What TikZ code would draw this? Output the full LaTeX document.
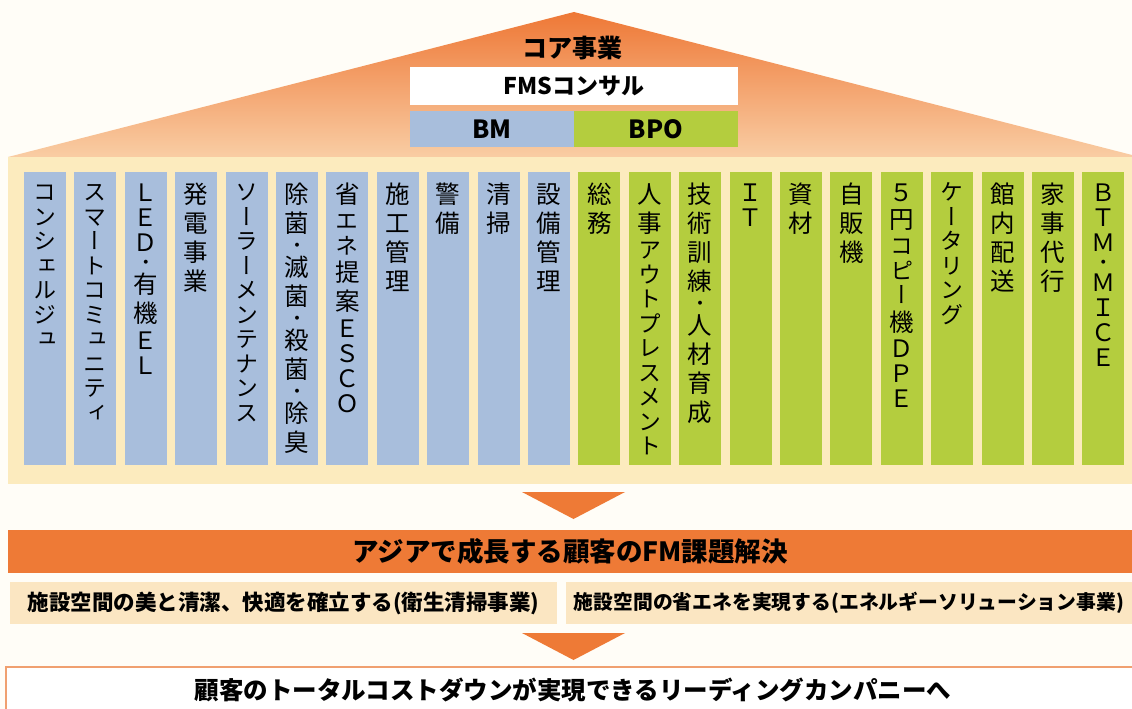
\documentclass[tikz,border=0pt]{standalone}
\usepackage{fontspec}
\setmainfont{Noto Sans CJK JP}
\newfontfamily\vfont[RawFeature=+vert]{Noto Sans CJK JP}
\definecolor{bgc}{HTML}{FFFDF7}
\definecolor{roofTop}{HTML}{EE7836}
\definecolor{roofBot}{HTML}{F9CDA4}
\definecolor{bodyY}{HTML}{FCEBBE}
\definecolor{colB}{HTML}{A8BEDC}
\definecolor{colG}{HTML}{B4CD3E}
\definecolor{barO}{HTML}{EE7A36}
\definecolor{boxY}{HTML}{FBE6C2}
\definecolor{lineO}{HTML}{F0A070}
% one character of a vertical column: slot height, font size, character
\newcommand\vslot[3]{\vbox to #1pt{\vss\hbox to 0pt{\hss\fontsize{#2}{#2}\selectfont\smash{#3}\hss}\kern\dimexpr #1pt/2 - #2pt*38/100\relax}}
\newcommand\vK[1]{\vslot{28}{24.5}{#1}}
\newcommand\vA[1]{\vslot{23.5}{23}{#1}}
\newcommand\vL[1]{\vslot{24}{24}{#1}}
\newcommand\vD{\vslot{14}{14}{\bfseries ・}}
\begin{document}
\begin{tikzpicture}[x=1pt,y=-1pt,
  colbox/.style={rectangle,anchor=north west,minimum width=42pt,minimum height=293pt,inner sep=0pt,outer sep=0pt},
  coltext/.style={anchor=north,inner sep=0pt,font=\vfont},
  hbox/.style={rectangle,inner sep=0pt,outer sep=0pt,font=\bfseries\fontsize{25}{25}\selectfont},
  tri/.style={fill=barO}
]
\useasboundingbox (0,0) rectangle (1132,709);
\fill[bgc] (0,0) rectangle (1132,709);
% roof
\shade[top color=roofTop,bottom color=roofBot] (8,157) -- (574,12) -- (1132,155) -- (1132,157) -- cycle;
\fill[bodyY] (8,157) rectangle (1132,484);
% header
\node[font=\bfseries\fontsize{25}{25}\selectfont,inner sep=0pt] (core) at (572,48) {コア事業};
\node[hbox,fill=white,minimum width=328pt,minimum height=38pt,font=\bfseries\fontsize{23}{23}\selectfont] (fms) at (574,86) {FMSコンサル};
\node[hbox,fill=colB,minimum width=164pt,minimum height=36pt] (bm) at (492,129) {BM};
\node[hbox,fill=colG,minimum width=164pt,minimum height=36pt] (bpo) at (656,129) {BPO};
% columns
\newcommand\vcol[3]{%
  \node[colbox,fill=#2] (c#1) at ({24+50.4*#1},172) {};
  \node[coltext] (t#1) at ({45+50.4*#1},180) {\vbox{#3}};
}
\vcol{0}{colB}{\vA{コ}\vA{ン}\vA{シ}\vA{ェ}\vA{ル}\vA{ジ}\vA{ュ}}
\vcol{1}{colB}{\vA{ス}\vA{マ}\vA{ー}\vA{ト}\vA{コ}\vA{ミ}\vA{ュ}\vA{ニ}\vA{テ}\vA{ィ}}
\vcol{2}{colB}{\vL{Ｌ}\vL{Ｅ}\vL{Ｄ}\vD\vK{有}\vK{機}\vL{Ｅ}\vL{Ｌ}}
\vcol{3}{colB}{\vK{発}\vK{電}\vK{事}\vK{業}}
\vcol{4}{colB}{\vA{ソ}\vA{ー}\vA{ラ}\vA{ー}\vA{メ}\vA{ン}\vA{テ}\vA{ナ}\vA{ン}\vA{ス}}
\vcol{5}{colB}{\vK{除}\vK{菌}\vD\vK{滅}\vK{菌}\vD\vK{殺}\vK{菌}\vD\vK{除}\vK{臭}}
\vcol{6}{colB}{\vK{省}\vA{エ}\vA{ネ}\vK{提}\vK{案}\vL{Ｅ}\vL{Ｓ}\vL{Ｃ}\vL{Ｏ}}
\vcol{7}{colB}{\vK{施}\vK{工}\vK{管}\vK{理}}
\vcol{8}{colB}{\vK{警}\vK{備}}
\vcol{9}{colB}{\vK{清}\vK{掃}}
\vcol{10}{colB}{\vK{設}\vK{備}\vK{管}\vK{理}}
\vcol{11}{colG}{\vK{総}\vK{務}}
\vcol{12}{colG}{\vK{人}\vK{事}\vA{ア}\vA{ウ}\vA{ト}\vA{プ}\vA{レ}\vA{ス}\vA{メ}\vA{ン}\vA{ト}}
\vcol{13}{colG}{\vK{技}\vK{術}\vK{訓}\vK{練}\vD\vK{人}\vK{材}\vK{育}\vK{成}}
\vcol{14}{colG}{\vL{Ｉ}\vL{Ｔ}}
\vcol{15}{colG}{\vK{資}\vK{材}}
\vcol{16}{colG}{\vK{自}\vK{販}\vK{機}}
\vcol{17}{colG}{\vL{５}\vK{円}\vA{コ}\vA{ピ}\vA{ー}\vK{機}\vL{Ｄ}\vL{Ｐ}\vL{Ｅ}}
\vcol{18}{colG}{\vA{ケ}\vA{ー}\vA{タ}\vA{リ}\vA{ン}\vA{グ}}
\vcol{19}{colG}{\vK{館}\vK{内}\vK{配}\vK{送}}
\vcol{20}{colG}{\vK{家}\vK{事}\vK{代}\vK{行}}
\vcol{21}{colG}{\vL{Ｂ}\vL{Ｔ}\vL{Ｍ}\vD\vL{Ｍ}\vL{Ｉ}\vL{Ｃ}\vL{Ｅ}}
% lower part
\node[rectangle,fill=barO,minimum width=1124pt,minimum height=43pt,inner sep=0pt,font=\bfseries\fontsize{26.5}{26.5}\selectfont] (sol) at (570,551.5) {アジアで成長する顧客のFM課題解決};
\node[rectangle,fill=boxY,minimum width=547pt,minimum height=42pt,inner sep=0pt,font=\bfseries\fontsize{21.5}{21.5}\selectfont] (hyg) at (283.5,603) {施設空間の美と清潔、快適を確立する(衛生清掃事業)};
\node[rectangle,fill=boxY,minimum width=566pt,minimum height=42pt,inner sep=0pt,font=\bfseries\fontsize{19.8}{19.8}\selectfont] (ene) at (849,603) {施設空間の省エネを実現する(エネルギーソリューション事業)};
\fill[white] (6,667) rectangle (1132,709);
\draw[lineO,line width=2pt] (6,709) -- (6,667) -- (1132,667);
\node[inner sep=0pt,font=\bfseries\fontsize{24.5}{24.5}\selectfont] (goal) at (573,690) {顧客のトータルコストダウンが実現できるリーディングカンパニーへ};
% arrows
\coordinate (a1) at (573.5,492);
\coordinate (a2) at (573.5,633);
\fill[tri] ([xshift=-51.5pt]a1) -- ([xshift=51.5pt]a1) -- ([yshift=-27pt]a1) -- cycle;
\fill[tri] ([xshift=-51.5pt]a2) -- ([xshift=51.5pt]a2) -- ([yshift=-27pt]a2) -- cycle;
\end{tikzpicture}
\end{document}
